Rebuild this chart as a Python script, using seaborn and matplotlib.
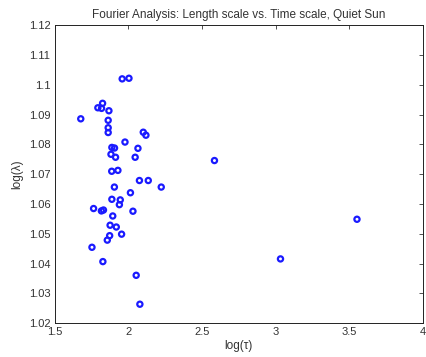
import matplotlib
matplotlib.use("Agg")
import matplotlib.pyplot as plt
import seaborn as sns
import pandas as pd

log_tau = [1.959, 2.005, 1.826, 1.794, 1.819, 1.869, 1.678, 1.864, 1.864, 1.864,
           2.102, 2.120, 1.978, 1.889, 1.907, 2.066, 1.883, 1.914, 2.047, 2.585,
           1.888, 1.930, 2.076, 2.136, 1.906, 2.224, 2.015, 1.889, 1.946, 1.940,
           1.765, 1.818, 1.832, 2.032, 1.895, 1.877, 1.919, 1.955, 1.874, 1.858,
           1.754, 1.828, 2.054, 2.079, 3.552, 3.033]
log_lambda = [1.1020, 1.1022, 1.0938, 1.0923, 1.0921, 1.0913, 1.0886, 1.0881, 1.0856, 1.0840,
              1.0841, 1.0831, 1.0808, 1.0790, 1.0788, 1.0787, 1.0767, 1.0757, 1.0757, 1.0746,
              1.0710, 1.0713, 1.0679, 1.0679, 1.0657, 1.0657, 1.0638, 1.0616, 1.0614, 1.0598,
              1.0585, 1.0577, 1.0580, 1.0576, 1.0560, 1.0529, 1.0523, 1.0499, 1.0494, 1.0479,
              1.0455, 1.0407, 1.0361, 1.0264, 1.0549, 1.0416]

x_ticks = [1.5, 2, 2.5, 3, 3.5, 4]
x_ticklabels = ["1.5", "2", "2.5", "3", "3.5", "4"]
y_ticks = [1.02, 1.03, 1.04, 1.05, 1.06, 1.07, 1.08, 1.09, 1.10, 1.11, 1.12]
y_ticklabels = ["1.02", "1.03", "1.04", "1.05", "1.06", "1.07", "1.08", "1.09", "1.1", "1.11", "1.12"]

title = "Fourier Analysis: Length scale vs. Time scale, Quiet Sun"
xlabel = "log(\u03c4)"
ylabel = "log(\u03bb)"

sns.set_style("white")
plt.rcParams["font.family"] = ["Liberation Sans", "DejaVu Sans"]

df = pd.DataFrame({"log_tau": log_tau, "log_lambda": log_lambda})

fig = plt.figure(figsize=(4.26, 3.57), dpi=100)
ax = fig.add_axes([0.128, 0.0944, 0.865, 0.835])
sns.scatterplot(data=df, x="log_tau", y="log_lambda", ax=ax, marker="o",
                s=14, facecolor="none", edgecolor="#1a1aff", linewidth=1.6)

ax.set_xlim(1.5, 4)
ax.set_ylim(1.02, 1.12)
ax.set_xticks(x_ticks)
ax.set_xticklabels(x_ticklabels)
ax.set_yticks(y_ticks)
ax.set_yticklabels(y_ticklabels)
ax.tick_params(direction="in", length=3, width=0.6, top=True, right=True,
               labelsize=8, colors="#333333", pad=3)
for sp in ax.spines.values():
    sp.set_visible(True)
    sp.set_color("#222222")
    sp.set_linewidth(0.7)
ax.set_title(title, fontsize=8.5, color="#333333", pad=5)
ax.set_xlabel(xlabel, fontsize=8.5, color="#333333", labelpad=2)
ax.set_ylabel(ylabel, fontsize=8.5, color="#333333", labelpad=4)

fig.savefig("out.png", dpi=100)
